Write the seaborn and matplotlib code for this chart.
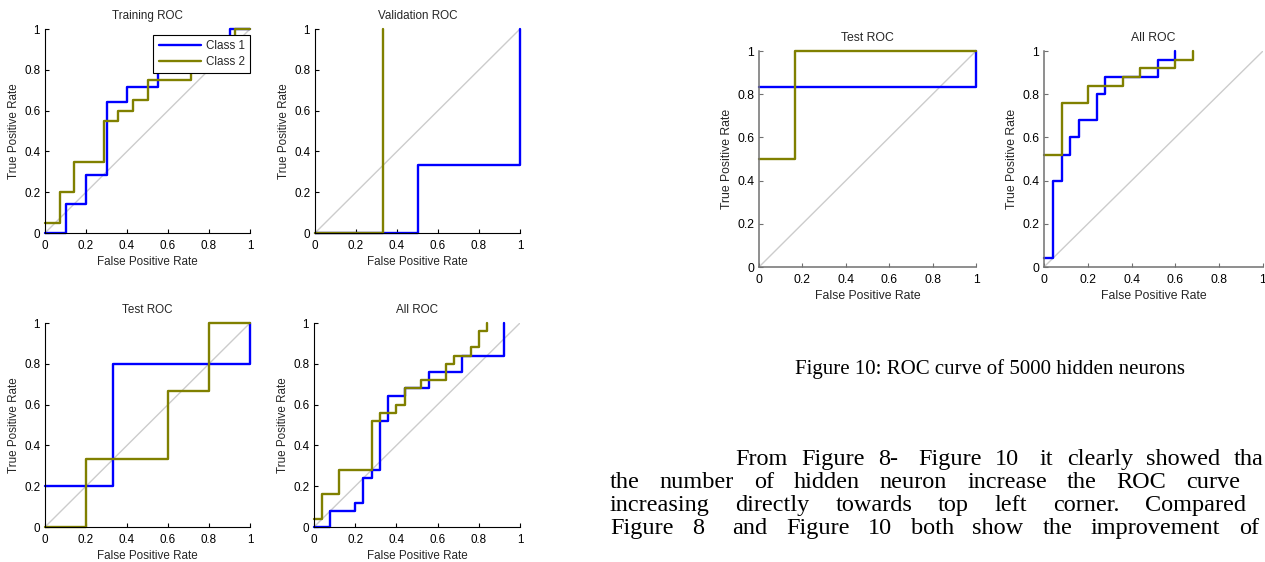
import numpy as np
import pandas as pd
import matplotlib
matplotlib.use("Agg")
import matplotlib.pyplot as plt
import matplotlib.transforms as mtrans
from matplotlib.lines import Line2D
import seaborn as sns

# ---------------- data (ROC operating points, drawn as steps) ----------------
tick_vals = [0, 0.2, 0.4, 0.6, 0.8, 1]
tick_labels = ["0", "0.2", "0.4", "0.6", "0.8", "1"]
class_names = ["Class 1", "Class 2"]

train_c1_fpr = [0, 0.10, 0.20, 0.30, 0.40, 0.55, 0.90, 1.00]
train_c1_tpr = [0, 0.143, 0.286, 0.643, 0.714, 0.857, 1.00, 1.00]
train_c2_fpr = [0, 0.071, 0.143, 0.286, 0.357, 0.429, 0.50, 0.714, 0.929, 1.00]
train_c2_tpr = [0.05, 0.20, 0.35, 0.55, 0.60, 0.65, 0.75, 0.85, 1.00, 1.00]

val_c1_fpr = [0, 0.50, 1.00]
val_c1_tpr = [0, 0.333, 1.00]
val_c2_fpr = [0, 0.333]
val_c2_tpr = [0, 1.00]

test_c1_fpr = [0, 0.333, 1.00]
test_c1_tpr = [0.20, 0.80, 1.00]
test_c2_fpr = [0, 0.20, 0.60, 0.80, 1.00]
test_c2_tpr = [0, 0.333, 0.667, 1.00, 1.00]

all_c1_fpr = [0, 0.08, 0.20, 0.24, 0.28, 0.32, 0.36, 0.44, 0.56, 0.72, 0.92]
all_c1_tpr = [0, 0.08, 0.12, 0.24, 0.28, 0.52, 0.64, 0.68, 0.76, 0.84, 1.00]
all_c2_fpr = [0, 0.04, 0.12, 0.28, 0.32, 0.40, 0.44, 0.52, 0.64, 0.68, 0.76, 0.80, 0.84]
all_c2_tpr = [0.04, 0.16, 0.28, 0.52, 0.56, 0.60, 0.68, 0.72, 0.80, 0.84, 0.88, 0.96, 1.00]

test5k_c1_fpr = [0, 1.00]
test5k_c1_tpr = [0.833, 1.00]
test5k_c2_fpr = [0, 0.167, 1.00]
test5k_c2_tpr = [0.50, 1.00, 1.00]

all5k_c1_fpr = [0, 0.04, 0.08, 0.12, 0.16, 0.24, 0.28, 0.52, 0.60]
all5k_c1_tpr = [0.04, 0.40, 0.52, 0.60, 0.68, 0.80, 0.88, 0.96, 1.00]
all5k_c2_fpr = [0, 0.08, 0.20, 0.36, 0.44, 0.60, 0.68]
all5k_c2_tpr = [0.52, 0.76, 0.84, 0.88, 0.92, 0.96, 1.00]

caption = "Figure 10: ROC curve of 5000 hidden neurons"
para_lines = [
    ["From", "Figure", "8-", "Figure", "10", "it", "clearly", "showed", "tha"],
    ["the", "number", "of", "hidden", "neuron", "increase", "the", "ROC", "curve"],
    ["increasing", "directly", "towards", "top", "left", "corner.", "Compared"],
    ["Figure", "8", "and", "Figure", "10", "both", "show", "the", "improvement", "of"],
]
double_space_after = [{2, 4}, set(), set(), {1}]

# ---------------- style ----------------
sns.set_theme(style="white")
plt.rcParams["font.family"] = ["Liberation Sans", "DejaVu Sans"]

W, H = 1265, 562
fig = plt.figure(figsize=(W / 100, H / 100), dpi=100)
fig.patch.set_facecolor("white")

BLUE = "#0000ff"
OLIVE = "#808000"
DIAG = "#cccccc"


def make_ax(l, t, r, b):
    return fig.add_axes([l / W, 1 - b / H, (r - l) / W, (b - t) / H])


def draw_roc(ax, title, curves, fs, spine_color, spine_w, legend=False):
    sns.lineplot(x=[0, 1], y=[0, 1], ax=ax, color=DIAG, lw=1.0,
                 estimator=None, sort=False)
    colors = [BLUE, OLIVE]
    for (fpr, tpr), col in zip(curves, colors):
        df = pd.DataFrame({"fpr": fpr, "tpr": tpr})
        sns.lineplot(data=df, x="fpr", y="tpr", ax=ax, color=col, lw=1.7,
                     estimator=None, sort=False, drawstyle="steps-post",
                     clip_on=False)
    ax.set_xlim(0, 1)
    ax.set_ylim(0, 1)
    ax.set_xticks(tick_vals)
    ax.set_xticklabels(tick_labels)
    ax.set_yticks(tick_vals)
    ax.set_yticklabels(tick_labels)
    ax.tick_params(direction="in", length=3, width=0.8, labelsize=fs,
                   colors="black", bottom=True, left=True, top=False, right=False)
    ax.tick_params(axis="x", pad=5)
    ax.tick_params(axis="y", pad=3.5)
    for s in ["top", "right"]:
        ax.spines[s].set_visible(False)
    for s in ["left", "bottom"]:
        ax.spines[s].set_color(spine_color)
        ax.spines[s].set_linewidth(spine_w)
    ax.tick_params(color=spine_color)
    ax.set_xlabel("False Positive Rate", fontsize=fs, labelpad=3)
    ax.set_ylabel("True Positive Rate", fontsize=fs, labelpad=3)
    ax.set_title(title, fontsize=fs, pad=7.5)
    ax.set_facecolor("white")
    if legend:
        handles = [Line2D([], [], color=BLUE, lw=1.7), Line2D([], [], color=OLIVE, lw=1.7)]
        leg = ax.legend(handles, class_names, loc="upper right", bbox_to_anchor=(1.0, 0.97),
                        borderaxespad=0, fancybox=False, edgecolor="black", framealpha=1,
                        fontsize=fs, handlelength=3.6, handletextpad=0.45,
                        labelspacing=0.3, borderpad=0.45)
        leg.get_frame().set_linewidth(0.8)
        leg.set_zorder(10)


FS_L = 8.4
FS_R = 8.8
ax1 = make_ax(45, 29, 250, 233)
draw_roc(ax1, "Training ROC", [(train_c1_fpr, train_c1_tpr), (train_c2_fpr, train_c2_tpr)],
         FS_L, "black", 0.8, legend=True)
ax2 = make_ax(315, 29, 520, 233)
draw_roc(ax2, "Validation ROC", [(val_c1_fpr, val_c1_tpr), (val_c2_fpr, val_c2_tpr)],
         FS_L, "black", 0.8)
ax3 = make_ax(45, 323, 250, 527)
draw_roc(ax3, "Test ROC", [(test_c1_fpr, test_c1_tpr), (test_c2_fpr, test_c2_tpr)],
         FS_L, "black", 0.8)
ax4 = make_ax(314, 323, 520, 527)
draw_roc(ax4, "All ROC", [(all_c1_fpr, all_c1_tpr), (all_c2_fpr, all_c2_tpr)],
         FS_L, "black", 0.8)
ax5 = make_ax(759, 51, 976, 267)
draw_roc(ax5, "Test ROC", [(test5k_c1_fpr, test5k_c1_tpr), (test5k_c2_fpr, test5k_c2_tpr)],
         FS_R, "#707070", 1.1)
ax6 = make_ax(1044, 51, 1263, 267)
draw_roc(ax6, "All ROC", [(all5k_c1_fpr, all5k_c1_tpr), (all5k_c2_fpr, all5k_c2_tpr)],
         FS_R, "#707070", 1.1)

# ---------------- page text ----------------
ident = mtrans.IdentityTransform()
renderer = fig.canvas.get_renderer()
SERIF = ["Liberation Serif", "DejaVu Serif"]

fig.text(990, H - 374, caption, transform=ident, ha="center", va="baseline",
         fontsize=15, family=SERIF, color="black")

PARA_FS = 17.5
line_specs = [  # (left x, right x of last word, baseline y from top)
    (735, 1264, 465),
    (610, 1240, 488),
    (610, 1246, 511),
    (610, 1259, 534),
]
for words, dbl, (x0, x1, yb) in zip(para_lines, double_space_after, line_specs):
    arts = []
    widths = []
    for w in words:
        t = fig.text(0, H - yb, w, transform=ident, ha="left", va="baseline",
                     fontsize=PARA_FS, family=SERIF, color="black")
        arts.append(t)
        widths.append(t.get_window_extent(renderer).width)
    units = [1.0 + (0.5 if i in dbl else 0.0) for i in range(len(words) - 1)]
    gap = (x1 - x0 - sum(widths)) / sum(units)
    x = x0
    for i, (t, wd) in enumerate(zip(arts, widths)):
        t.set_x(x)
        x += wd
        if i < len(units):
            x += gap * units[i]

fig.savefig("out.png", dpi=100, facecolor="white")
